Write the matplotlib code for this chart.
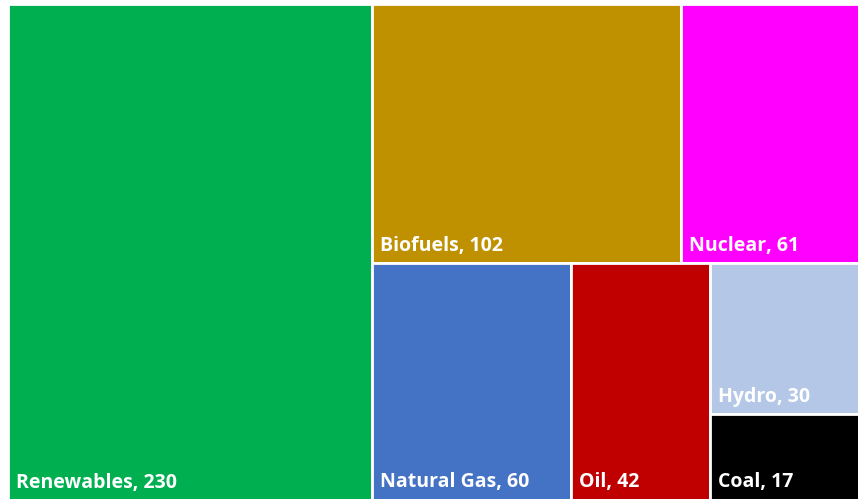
import matplotlib.pyplot as plt
from matplotlib.patches import Rectangle

# data
names = ['Renewables', 'Biofuels', 'Nuclear', 'Natural Gas', 'Oil', 'Hydro', 'Coal']
values = [230, 102, 61, 60, 42, 30, 17]
colors = ['#00B050', '#BF9000', '#FF00FF', '#4472C4', '#C00000', '#B4C7E7', '#000000']


def worst(row, side):
    s = sum(row)
    return max(max(side * side * r / (s * s), s * s / (side * side * r)) for r in row)


def layout_row(row, x, y, w, h):
    s = sum(row)
    rects = []
    if w >= h:  # lay a column on the left
        cw = s / h
        yy = y + h
        for r in row:
            rh = r / cw
            yy -= rh
            rects.append((x, yy, cw, rh))
        return rects, (x + cw, y, w - cw, h)
    else:  # lay a row on the top
        rh = s / w
        xx = x
        for r in row:
            rw = r / rh
            rects.append((xx, y + h - rh, rw, rh))
            xx += rw
        return rects, (x, y, w, h - rh)


def squarify(vals, x, y, w, h):
    total = sum(vals)
    areas = [v * w * h / total for v in vals]
    out = []
    rect = (x, y, w, h)
    i = 0
    while i < len(areas):
        side = min(rect[2], rect[3])
        row = [areas[i]]
        i += 1
        while i < len(areas) and worst(row + [areas[i]], side) <= worst(row, side):
            row.append(areas[i])
            i += 1
        rs, rect = layout_row(row, *rect)
        out += rs
    return out


# the treemap runs a little past the right edge of the picture
W, H = 858.0, 496.0
fig = plt.figure(figsize=(8.58, 4.99), dpi=100)
ax = fig.add_axes([8 / 858, -0.5 / 499, W / 858, H / 499])
ax.set_xlim(0, W)
ax.set_ylim(0, H)
ax.axis('off')

rects = squarify(values, 0, 0, W, H)
for (x, y, w, h), n, v, c in zip(rects, names, values, colors):
    ax.add_patch(Rectangle((x, y), w, h, facecolor=c, edgecolor='white', linewidth=2,
                           clip_on=False))
    ax.text(x + 8, y + 12, f'{n}, {v}', color='white', fontsize=14, fontweight='bold',
            family='Open Sans', ha='left', va='baseline')

fig.savefig('out.png', dpi=100)
